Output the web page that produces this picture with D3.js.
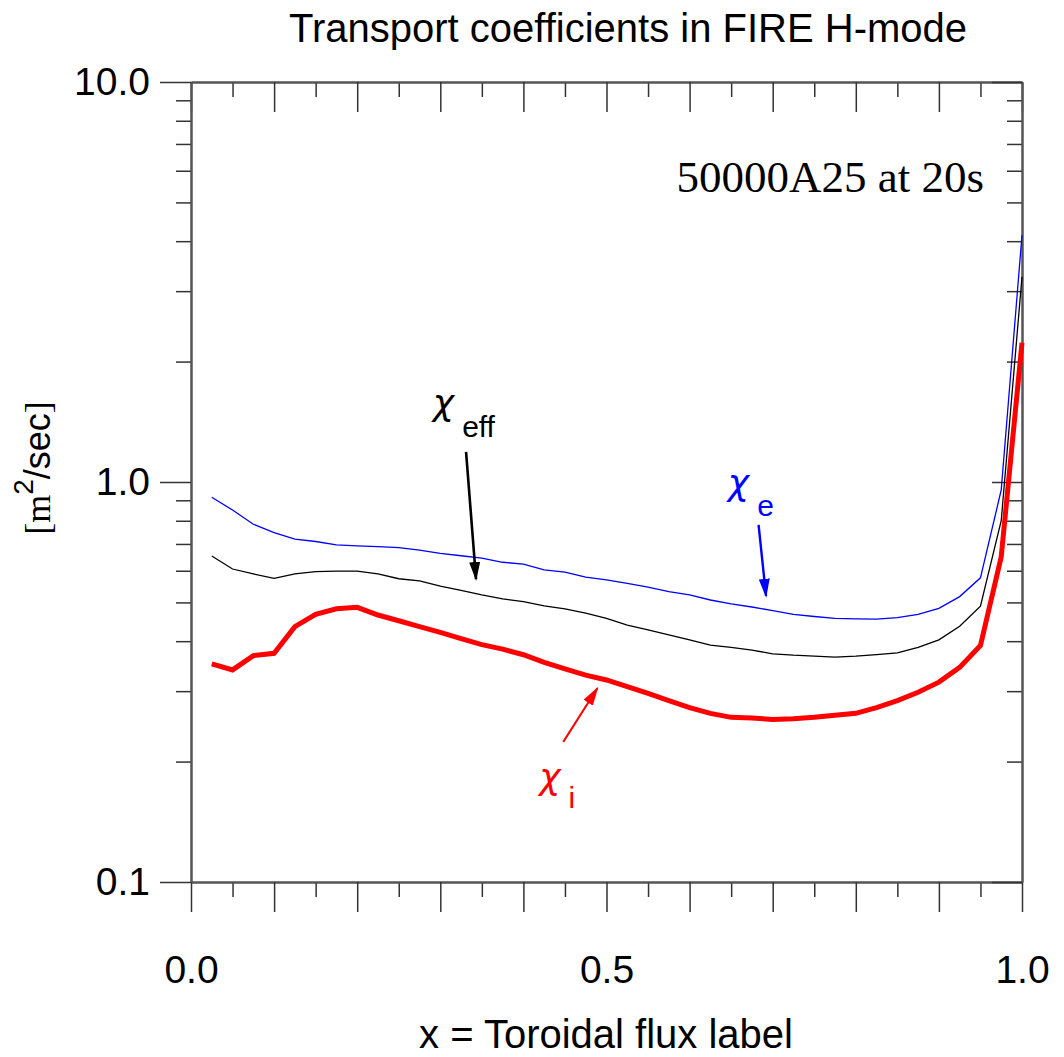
<!DOCTYPE html>
<html>
<head>
<meta charset="utf-8">
<script src="https://cdn.jsdelivr.net/npm/d3@7"></script>
<style>
  body { margin: 0; background: #fff; }
  svg text { font-family: "Liberation Sans", Arial, sans-serif; }
</style>
</head>
<body>
<svg id="chart" width="1064" height="1057"></svg>
<script>
  // toroidal flux label grid
  var fluxX = [0.025, 0.05, 0.075, 0.1, 0.125, 0.15, 0.175, 0.2, 0.225, 0.25,
               0.275, 0.3, 0.325, 0.35, 0.375, 0.4, 0.425, 0.45, 0.475, 0.5,
               0.525, 0.55, 0.575, 0.6, 0.625, 0.65, 0.675, 0.7, 0.725, 0.75,
               0.775, 0.8, 0.825, 0.85, 0.875, 0.9, 0.925, 0.95, 0.975, 1.0];

  // chi_e (blue)
  var chiE = [0.916, 0.851, 0.784, 0.747, 0.720, 0.710, 0.696, 0.692, 0.689, 0.685,
              0.676, 0.663, 0.654, 0.645, 0.630, 0.623, 0.603, 0.595, 0.578, 0.569,
              0.558, 0.546, 0.532, 0.522, 0.507, 0.496, 0.487, 0.477, 0.467, 0.461,
              0.456, 0.455, 0.454, 0.458, 0.467, 0.483, 0.517, 0.576, 0.955, 4.14];

  // chi_eff (black)
  var chiEff = [0.653, 0.606, 0.589, 0.574, 0.589, 0.597, 0.599, 0.599, 0.589, 0.573,
                0.566, 0.549, 0.536, 0.522, 0.510, 0.502, 0.490, 0.482, 0.470, 0.456,
                0.439, 0.427, 0.415, 0.403, 0.391, 0.386, 0.380, 0.372, 0.369, 0.367,
                0.365, 0.367, 0.370, 0.374, 0.386, 0.403, 0.436, 0.489, 0.80, 3.26];

  // chi_i (red)
  var chiI = [0.351, 0.339, 0.368, 0.373, 0.435, 0.467, 0.482, 0.486, 0.465, 0.450,
              0.435, 0.421, 0.406, 0.392, 0.382, 0.370, 0.354, 0.341, 0.329, 0.320,
              0.308, 0.296, 0.284, 0.273, 0.264, 0.258, 0.257, 0.255, 0.256, 0.258,
              0.261, 0.264, 0.273, 0.284, 0.298, 0.316, 0.344, 0.390, 0.65, 2.23];

  var xMajorTicks = [0, 0.1, 0.2, 0.3, 0.4, 0.5, 0.6, 0.7, 0.8, 0.9, 1.0];
  var xMinorTicks = [0.05, 0.15, 0.25, 0.35, 0.45, 0.55, 0.65, 0.75, 0.85, 0.95];
  var xTickLabels = { 0: '0.0', 0.5: '0.5', 1: '1.0' };
  var yMajorTicks = [0.1, 1, 10];
  var yMinorTicks = [0.2, 0.3, 0.4, 0.5, 0.6, 0.7, 0.8, 0.9, 2, 3, 4, 5, 6, 7, 8, 9];
  var yTickLabels = { 0.1: '0.1', 1: '1.0', 10: '10.0' };

  // annotation arrows in data units, tip at "to"
  var arrows = [
    { from: [0.331, 1.19], to: [0.343, 0.572], color: '#000', width: 2.6 },
    { from: [0.683, 0.781], to: [0.692, 0.519], color: '#0000ff', width: 2.4 },
    { from: [0.448, 0.224], to: [0.489, 0.305], color: '#ff0000', width: 2 }
  ];
  // annotation labels: chi baseline anchored at data units
  var labels = [
    { x: 0.291, y: 1.47, sub: 'eff', subDy: 22, color: '#000' },
    { x: 0.646, y: 0.928, sub: 'e', subDy: 21, color: '#0000ff' },
    { x: 0.419, y: 0.171, sub: 'i', subDy: 19, color: '#ff0000' }
  ];

  (function() {
    var svg = d3.select('#chart');
    var plotLeft = 191, plotRight = 1022, plotTop = 82, plotBottom = 882;

    var x = d3.scaleLinear().domain([0, 1]).range([plotLeft, plotRight]);
    var y = d3.scaleLog().domain([0.1, 10]).range([plotBottom, plotTop]);

    function styleAxis(g) {
      g.select('.domain').attr('stroke', '#555').attr('stroke-width', 2);
      g.selectAll('.tick line').attr('stroke', '#333').attr('stroke-width', 1.5);
      g.selectAll('.tick text').attr('fill', '#000')
        .style('font-family', '"Liberation Sans", Arial, sans-serif')
        .style('font-size', '39px');
    }

    // bottom axis
    svg.append('g').attr('transform', 'translate(0,' + plotBottom + ')')
      .call(d3.axisBottom(x).tickValues(xMinorTicks).tickSize(15).tickSizeOuter(0).tickFormat(''))
      .call(styleAxis);
    svg.append('g').attr('transform', 'translate(0,' + plotBottom + ')')
      .call(d3.axisBottom(x).tickValues(xMajorTicks).tickSize(30).tickSizeOuter(0).tickPadding(43)
        .tickFormat(function(d) { return xTickLabels[d] || ''; }))
      .call(styleAxis);

    // top axis, ticks inward
    svg.append('g').attr('transform', 'translate(0,' + plotTop + ')')
      .call(d3.axisTop(x).tickValues(xMinorTicks).tickSize(-15).tickSizeOuter(0).tickFormat(''))
      .call(styleAxis);
    svg.append('g').attr('transform', 'translate(0,' + plotTop + ')')
      .call(d3.axisTop(x).tickValues(xMajorTicks).tickSize(-30).tickSizeOuter(0).tickFormat(''))
      .call(styleAxis);

    // left axis
    svg.append('g').attr('transform', 'translate(' + plotLeft + ',0)')
      .call(d3.axisLeft(y).tickValues(yMinorTicks).tickSize(15).tickSizeOuter(0).tickFormat(''))
      .call(styleAxis);
    svg.append('g').attr('transform', 'translate(' + plotLeft + ',0)')
      .call(d3.axisLeft(y).tickValues(yMajorTicks).tickSize(31).tickSizeOuter(0).tickPadding(10)
        .tickFormat(function(d) { return yTickLabels[d]; }))
      .call(styleAxis);

    // right axis, ticks inward
    svg.append('g').attr('transform', 'translate(' + plotRight + ',0)')
      .call(d3.axisRight(y).tickValues(yMinorTicks).tickSize(-15).tickSizeOuter(0).tickFormat(''))
      .call(styleAxis);
    svg.append('g').attr('transform', 'translate(' + plotRight + ',0)')
      .call(d3.axisRight(y).tickValues(yMajorTicks).tickSize(-30).tickSizeOuter(0).tickFormat(''))
      .call(styleAxis);

    // curves
    var line = d3.line()
      .x(function(d) { return x(d[0]); })
      .y(function(d) { return y(d[1]); });

    var series = [
      { values: chiE, color: '#0000ff', width: 1.3 },
      { values: chiEff, color: '#000', width: 1.3 },
      { values: chiI, color: '#ff0000', width: 5 }
    ];

    series.forEach(function(s) {
      svg.append('path')
        .datum(fluxX.map(function(v, i) { return [v, s.values[i]]; }))
        .attr('d', line)
        .attr('fill', 'none')
        .attr('stroke', s.color)
        .attr('stroke-width', s.width);
    });

    // arrows
    var defs = svg.append('defs');
    arrows.forEach(function(a, i) {
      defs.append('marker')
        .attr('id', 'arrow' + i)
        .attr('viewBox', '0 0 10 10')
        .attr('preserveAspectRatio', 'none')
        .attr('refX', 9).attr('refY', 5)
        .attr('markerWidth', 19).attr('markerHeight', 11)
        .attr('markerUnits', 'userSpaceOnUse')
        .attr('orient', 'auto')
        .append('path')
        .attr('d', 'M0,0 L10,5 L0,10 z')
        .attr('fill', a.color);

      svg.append('line')
        .attr('x1', x(a.from[0])).attr('y1', y(a.from[1]))
        .attr('x2', x(a.to[0])).attr('y2', y(a.to[1]))
        .attr('stroke', a.color)
        .attr('stroke-width', a.width)
        .attr('marker-end', 'url(#arrow' + i + ')');
    });

    // chi labels
    labels.forEach(function(l) {
      var t = svg.append('text')
        .attr('x', x(l.x)).attr('y', y(l.y))
        .attr('fill', l.color);
      t.append('tspan')
        .style('font-family', '"DejaVu Sans", sans-serif')
        .style('font-style', 'oblique')
        .style('font-size', '36px')
        .text('\u03c7');
      t.append('tspan').attr('dx', 8).attr('dy', l.subDy)
        .style('font-size', '30px').text(l.sub);
    });

    // title
    svg.append('text')
      .attr('x', 628).attr('y', 42)
      .attr('text-anchor', 'middle')
      .style('font-size', '40px')
      .text('Transport coefficients in FIRE H-mode');

    // x axis label
    svg.append('text')
      .attr('x', 606).attr('y', 1048)
      .attr('text-anchor', 'middle')
      .style('font-size', '40px')
      .text('x = Toroidal flux label');

    // run label
    svg.append('text')
      .attr('x', 984).attr('y', 192)
      .attr('text-anchor', 'end')
      .style('font-family', '"Liberation Serif", "Times New Roman", serif')
      .style('font-size', '45px')
      .text('50000A25 at 20s');

    // y axis label
    var yl = svg.append('text')
      .attr('transform', 'translate(50,468) rotate(-90)')
      .attr('text-anchor', 'middle')
      .style('font-size', '36px');
    yl.append('tspan').style('font-family', '"Liberation Serif", serif').text('[m');
    yl.append('tspan').attr('dy', -17).style('font-size', '28px').text('2');
    yl.append('tspan').attr('dy', 17).text('/sec');
    yl.append('tspan').style('font-family', '"Liberation Serif", serif').text(']');
  })();
</script>
</body>
</html>
